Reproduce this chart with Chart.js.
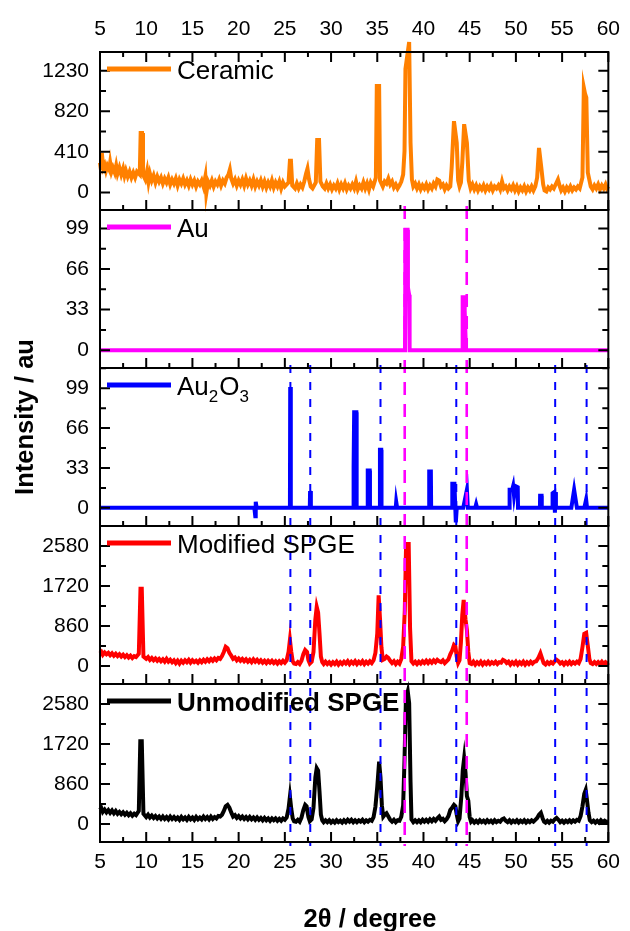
<!DOCTYPE html>
<html>
<head>
<meta charset="utf-8">
<script src="https://cdn.jsdelivr.net/npm/chart.js@4/dist/chart.umd.min.js"></script>
<style>
  html, body { margin: 0; padding: 0; background: #fff; }
  canvas { display: block; }
</style>
</head>
<body>
<canvas id="xrdChart" width="630" height="931"></canvas>
<script>
// 2theta tick values shared by every panel
const xTicks = [5, 10, 15, 20, 25, 30, 35, 40, 45, 50, 55, 60];

// y tick labels per panel (top to bottom)
const ceramicTicks = [0, 410, 820, 1230];
const auTicks = [0, 33, 66, 99];
const au2o3Ticks = [0, 33, 66, 99];
const modifiedTicks = [0, 860, 1720, 2580];
const unmodifiedTicks = [0, 860, 1720, 2580];

// reference lines (2theta)
const auLines = [37.97, 44.68];
const au2o3Lines = [25.6, 27.75, 35.35, 43.55, 54.25, 57.65];

// series values: [2theta, intensity]
const ceramic = [
  [5.0,300],[5.1,230],[5.2,400],[5.35,250],[5.5,280],[5.65,220],[5.8,270],[6.0,230],[6.1,300],[6.25,210],
  [6.4,250],[6.6,200],[6.75,270],[6.9,190],[7.1,250],[7.3,180],[7.5,240],[7.65,170],[7.8,220],[8.0,160],
  [8.2,210],[8.4,150],[8.6,200],[8.8,150],[9.0,210],[9.3,180],[9.4,600],[9.55,600],[9.65,180],[9.9,130],
  [10.1,220],[10.25,110],[10.4,190],[10.6,120],[10.8,170],[11.0,100],[11.2,160],[11.4,110],[11.6,150],[11.8,90],
  [12.0,140],[12.2,100],[12.4,150],[12.6,80],[12.8,130],[13.0,90],[13.2,140],[13.4,70],[13.6,130],[13.8,90],
  [14.0,140],[14.2,80],[14.4,120],[14.6,70],[14.8,130],[15.0,80],[15.2,120],[15.4,60],[15.6,110],[15.8,80],
  [16.0,120],[16.2,60],[16.4,160],[16.5,-10],[16.7,110],[16.9,70],[17.1,120],[17.3,60],[17.5,110],[17.7,80],
  [17.9,130],[18.1,70],[18.3,120],[18.5,90],[18.7,150],[18.9,180],[19.05,230],[19.2,140],[19.4,90],[19.6,130],
  [19.8,70],[20.0,120],[20.2,80],[20.4,130],[20.6,70],[20.8,140],[21.0,80],[21.2,120],[21.4,70],[21.6,130],
  [21.8,60],[22.0,110],[22.2,70],[22.4,120],[22.6,60],[22.8,110],[23.0,50],[23.2,100],[23.4,60],[23.6,120],
  [23.8,50],[24.0,100],[24.2,60],[24.4,110],[24.6,40],[24.8,100],[25.0,60],[25.4,100],[25.55,320],[25.66,320],
  [25.8,70],[26.1,40],[26.3,90],[26.5,40],[26.7,80],[26.9,50],[27.1,110],[27.3,190],[27.45,240],[27.6,140],
  [27.8,60],[28.0,40],[28.35,100],[28.5,530],[28.7,530],[28.85,110],[29.1,60],[29.3,40],[29.5,90],[29.7,40],
  [29.9,80],[30.1,30],[30.3,70],[30.5,40],[30.7,90],[30.9,30],[31.1,80],[31.3,40],[31.5,90],[31.7,30],
  [31.9,70],[32.1,40],[32.3,80],[32.5,40],[32.7,110],[32.9,30],[33.1,70],[33.3,40],[33.5,100],[33.7,40],
  [33.9,90],[34.1,30],[34.3,100],[34.55,60],[34.85,150],[34.95,1075],[35.2,1075],[35.3,120],[35.6,60],[35.8,110],
  [36.0,90],[36.2,140],[36.4,80],[36.6,110],[36.8,50],[37.0,80],[37.2,40],[37.4,70],[37.6,110],[37.8,180],
  [37.95,420],[38.05,1250],[38.45,1520],[38.6,500],[38.75,130],[38.9,60],[39.1,90],[39.3,40],[39.5,80],[39.7,30],
  [39.9,70],[40.1,40],[40.3,80],[40.5,30],[40.7,70],[40.9,40],[41.1,90],[41.3,60],[41.5,130],[41.7,120],
  [41.9,60],[42.1,80],[42.3,30],[42.5,70],[42.7,40],[42.9,60],[43.05,250],[43.3,720],[43.6,500],[43.75,120],
  [43.9,60],[44.05,100],[44.2,300],[44.4,690],[44.7,500],[44.9,120],[45.1,40],[45.3,80],[45.5,30],[45.7,70],
  [45.9,20],[46.1,60],[46.3,30],[46.5,70],[46.7,20],[46.9,60],[47.1,30],[47.3,70],[47.5,20],[47.7,60],
  [47.9,40],[48.1,70],[48.3,30],[48.5,110],[48.7,40],[48.9,60],[49.1,20],[49.3,60],[49.5,30],[49.7,70],
  [49.9,20],[50.1,60],[50.3,10],[50.5,50],[50.7,20],[50.9,60],[51.1,10],[51.3,50],[51.5,20],[51.7,60],
  [51.9,20],[52.1,60],[52.3,150],[52.5,450],[52.75,250],[52.95,80],[53.1,20],[53.3,10],[53.5,50],[53.7,30],
  [53.9,60],[54.1,40],[54.3,80],[54.55,130],[54.75,60],[54.9,20],[55.1,50],[55.3,10],[55.5,50],[55.7,20],
  [55.9,60],[56.1,20],[56.3,50],[56.5,30],[56.7,60],[56.9,40],[57.2,150],[57.35,1060],[57.48,1000],[57.62,960],
  [57.78,200],[58.1,60],[58.3,30],[58.5,70],[58.7,40],[58.9,80],[59.1,30],[59.3,70],[59.5,40],[59.7,80],
  [59.85,40],[60.0,60]
];

const au = [
  [5,0],[38.0,0],[38.05,98],[38.28,98],[38.32,51],[38.45,45],[38.5,0],
  [44.2,0],[44.24,43],[44.42,43],[44.46,32],[44.6,0],[60,0]
];

const au2o3 = [
  [5,0],[21.7,0],[21.8,-7],[21.85,5],[21.95,0],[25.55,0],[25.58,100],[25.63,100],[25.66,0],
  [27.7,0],[27.73,14],[27.8,14],[27.83,0],[32.38,0],[32.4,34],[32.48,34],[32.5,79],[32.74,79],[32.77,0],
  [33.95,0],[33.97,31],[34.18,31],[34.21,0],[35.27,0],[35.29,48],[35.43,48],[35.46,0],[37.0,0],[37.05,5],[37.15,0],
  [40.6,0],[40.62,30],[40.8,30],[40.83,0],[43.1,0],[43.12,20],[43.35,20],[43.5,-12],[43.6,0],
  [44.3,0],[44.7,15],[44.8,0],[45.6,0],[45.7,3],[45.8,0],
  [49.3,0],[49.32,15],[49.6,15],[49.7,18],[49.8,10],[49.95,18],[50.2,17],[50.23,0],
  [52.6,0],[52.62,10],[52.78,10],[52.8,0],[53.95,0],[53.97,12],[54.15,13],[54.22,-4],[54.3,13],[54.33,0],
  [56.0,0],[56.3,15],[56.6,0],[57.4,0],[57.6,7],[57.7,0],[60,0]
];

const modified = [
  [5.0,270],[5.15,300],[5.3,240],[5.5,290],[5.7,250],[5.9,280],[6.1,230],[6.3,270],[6.5,220],[6.7,260],
  [6.9,210],[7.1,250],[7.3,200],[7.5,240],[7.7,190],[7.9,230],[8.1,180],[8.3,220],[8.5,170],[8.7,210],
  [8.9,190],[9.2,260],[9.38,1660],[9.52,1660],[9.7,200],[10.0,150],[10.2,190],[10.4,130],[10.6,170],[10.8,120],
  [11.0,160],[11.2,110],[11.4,150],[11.6,100],[11.8,140],[12.0,90],[12.2,150],[12.4,90],[12.6,130],[12.8,80],
  [13.0,120],[13.2,60],[13.4,110],[13.6,50],[13.8,110],[14.0,70],[14.2,120],[14.4,80],[14.6,130],[14.8,70],
  [15.0,120],[15.2,80],[15.4,110],[15.6,70],[15.8,120],[16.0,80],[16.2,130],[16.4,90],[16.6,140],[16.8,100],
  [17.0,150],[17.2,110],[17.4,160],[17.6,120],[17.8,170],[18.0,150],[18.2,210],[18.4,300],[18.6,410],[18.8,380],
  [19.0,280],[19.2,220],[19.4,150],[19.6,180],[19.8,120],[20.0,160],[20.2,110],[20.4,150],[20.6,100],[20.8,140],
  [21.0,90],[21.2,130],[21.4,80],[21.6,140],[21.8,90],[22.0,130],[22.2,80],[22.4,120],[22.6,70],[22.8,110],
  [23.0,60],[23.2,110],[23.4,70],[23.6,110],[23.8,60],[24.0,100],[24.2,50],[24.4,100],[24.6,60],[24.8,110],
  [25.0,70],[25.2,120],[25.4,300],[25.55,560],[25.7,300],[25.85,100],[26.0,50],[26.2,40],[26.4,80],[26.6,40],
  [26.8,110],[27.0,250],[27.2,340],[27.4,300],[27.55,120],[27.7,50],[27.9,90],[28.1,300],[28.3,1000],[28.45,1270],
  [28.6,1150],[28.75,700],[28.9,200],[29.05,80],[29.2,40],[29.4,90],[29.6,40],[29.8,80],[30.0,30],[30.2,80],
  [30.4,40],[30.6,90],[30.8,30],[31.0,80],[31.2,40],[31.4,90],[31.6,50],[31.8,100],[32.0,40],[32.2,90],
  [32.4,50],[32.6,100],[32.8,40],[33.0,90],[33.2,50],[33.4,100],[33.6,40],[33.8,90],[34.0,50],[34.2,100],
  [34.4,60],[34.6,120],[34.8,280],[35.0,700],[35.15,1520],[35.3,1000],[35.45,400],[35.6,130],[35.8,150],[36.0,200],
  [36.2,170],[36.4,110],[36.6,60],[36.8,100],[37.0,40],[37.2,90],[37.4,50],[37.6,150],[37.8,410],[37.98,1200],
  [38.12,2620],[38.4,2620],[38.55,800],[38.7,100],[38.9,50],[39.1,90],[39.3,40],[39.5,90],[39.7,50],[39.9,100],
  [40.1,60],[40.3,110],[40.5,60],[40.7,110],[40.9,70],[41.1,120],[41.3,80],[41.5,130],[41.7,100],[41.9,80],
  [42.1,120],[42.3,60],[42.5,100],[42.7,140],[42.9,250],[43.1,330],[43.3,450],[43.45,420],[43.6,200],[43.75,60],
  [43.9,120],[44.05,500],[44.2,1100],[44.35,1420],[44.55,1000],[44.7,770],[44.85,300],[45.0,60],[45.2,40],[45.4,90],
  [45.6,30],[45.8,80],[46.0,40],[46.2,90],[46.4,30],[46.6,80],[46.8,40],[47.0,90],[47.2,40],[47.4,80],
  [47.6,50],[47.8,90],[48.0,40],[48.2,80],[48.4,70],[48.6,130],[48.8,110],[49.0,60],[49.2,90],[49.4,30],
  [49.6,80],[49.8,40],[50.0,90],[50.2,30],[50.4,80],[50.6,40],[50.8,90],[51.0,30],[51.2,80],[51.4,40],
  [51.6,90],[51.8,50],[52.0,90],[52.2,100],[52.45,180],[52.65,270],[52.85,150],[53.0,60],[53.2,30],[53.4,80],
  [53.6,40],[53.8,80],[54.0,50],[54.2,100],[54.4,130],[54.6,100],[54.8,50],[55.0,80],[55.2,30],[55.4,80],
  [55.6,40],[55.8,90],[56.0,40],[56.2,80],[56.4,50],[56.6,90],[56.8,60],[57.0,150],[57.2,400],[57.4,690],
  [57.6,710],[57.8,400],[57.95,150],[58.1,60],[58.3,40],[58.5,80],[58.7,40],[58.9,80],[59.1,40],[59.3,90],
  [59.5,40],[59.7,80],[59.9,50],[60.0,70]
];

const unmodified = [
  [5.0,300],[5.15,340],[5.3,260],[5.5,310],[5.7,250],[5.9,300],[6.1,240],[6.3,290],[6.5,230],[6.7,280],
  [6.9,220],[7.1,260],[7.3,210],[7.5,250],[7.7,200],[7.9,240],[8.1,190],[8.3,230],[8.5,180],[8.7,220],
  [8.9,190],[9.2,280],[9.36,1780],[9.52,1780],[9.7,220],[10.0,150],[10.2,200],[10.4,140],[10.6,180],[10.8,130],
  [11.0,170],[11.2,120],[11.4,160],[11.6,110],[11.8,160],[12.0,110],[12.2,150],[12.4,100],[12.6,160],[12.8,110],
  [13.0,150],[13.2,100],[13.4,140],[13.6,90],[13.8,150],[14.0,100],[14.2,140],[14.4,90],[14.6,150],[14.8,100],
  [15.0,140],[15.2,90],[15.4,150],[15.6,100],[15.8,140],[16.0,100],[16.2,160],[16.4,110],[16.6,150],[16.8,100],
  [17.0,160],[17.2,110],[17.4,150],[17.6,120],[17.8,170],[18.0,160],[18.2,200],[18.4,280],[18.6,380],[18.8,410],
  [19.0,350],[19.2,250],[19.4,160],[19.6,190],[19.8,130],[20.0,170],[20.2,120],[20.4,160],[20.6,110],[20.8,150],
  [21.0,100],[21.2,150],[21.4,100],[21.6,140],[21.8,90],[22.0,140],[22.2,90],[22.4,130],[22.6,80],[22.8,130],
  [23.0,80],[23.2,120],[23.4,70],[23.6,120],[23.8,80],[24.0,120],[24.2,70],[24.4,110],[24.6,70],[24.8,120],
  [25.0,90],[25.2,140],[25.4,330],[25.55,590],[25.7,320],[25.85,120],[26.0,60],[26.2,50],[26.4,90],[26.6,50],
  [26.8,140],[27.0,300],[27.2,410],[27.35,380],[27.55,150],[27.7,60],[27.9,100],[28.1,350],[28.3,1000],[28.45,1200],
  [28.6,1150],[28.75,700],[28.9,200],[29.05,80],[29.2,40],[29.4,80],[29.6,40],[29.8,80],[30.0,30],[30.2,70],
  [30.4,30],[30.6,80],[30.8,40],[31.0,70],[31.2,30],[31.4,80],[31.6,40],[31.8,90],[32.0,50],[32.2,90],
  [32.4,40],[32.6,80],[32.8,40],[33.0,80],[33.2,50],[33.4,90],[33.6,40],[33.8,80],[34.0,50],[34.2,90],
  [34.4,70],[34.6,150],[34.8,370],[35.0,800],[35.2,1340],[35.35,1000],[35.5,400],[35.65,160],[35.8,200],[36.0,230],
  [36.2,160],[36.4,90],[36.6,50],[36.8,90],[37.0,40],[37.2,80],[37.4,70],[37.6,160],[37.8,400],[37.95,1400],
  [38.1,2700],[38.3,2850],[38.45,2600],[38.6,900],[38.7,100],[38.9,40],[39.1,80],[39.3,40],[39.5,80],[39.7,40],
  [39.9,90],[40.1,50],[40.3,90],[40.5,50],[40.7,100],[40.9,60],[41.1,110],[41.3,70],[41.5,120],[41.7,160],
  [41.9,90],[42.1,110],[42.3,60],[42.5,100],[42.7,170],[42.9,300],[43.1,350],[43.3,410],[43.45,380],[43.6,200],
  [43.75,60],[43.9,120],[44.1,600],[44.25,1150],[44.4,1410],[44.55,1100],[44.7,600],[44.85,500],[45.0,150],[45.15,50],
  [45.3,80],[45.5,30],[45.7,70],[45.9,30],[46.1,80],[46.3,40],[46.5,70],[46.7,30],[46.9,80],[47.1,40],
  [47.3,70],[47.5,30],[47.7,80],[47.9,40],[48.1,70],[48.3,50],[48.5,100],[48.7,120],[48.9,70],[49.1,40],
  [49.3,80],[49.5,30],[49.7,70],[49.9,40],[50.1,80],[50.3,30],[50.5,70],[50.7,40],[50.9,80],[51.1,30],
  [51.3,70],[51.5,40],[51.7,80],[51.9,50],[52.1,90],[52.3,130],[52.5,200],[52.7,240],[52.9,120],[53.05,50],
  [53.2,30],[53.4,70],[53.6,30],[53.8,70],[54.0,50],[54.2,100],[54.4,130],[54.6,90],[54.8,40],[55.0,70],
  [55.2,30],[55.4,70],[55.6,40],[55.8,80],[56.0,40],[56.2,80],[56.4,50],[56.6,90],[56.8,70],[57.0,170],
  [57.2,380],[57.4,650],[57.55,730],[57.7,500],[57.85,250],[58.0,80],[58.2,40],[58.4,70],[58.6,30],[58.8,70],
  [59.0,30],[59.2,80],[59.4,40],[59.6,70],[59.8,40],[60.0,60]
];

Chart.defaults.font.family = '"Liberation Sans", Arial, sans-serif';
Chart.defaults.color = '#000';

const FONT = '"Liberation Sans", Arial, sans-serif';

// one entry per panel, top to bottom
const panels = [
  { id: 'y1', name: 'Ceramic', color: '#FF8000', data: ceramic, ticks: ceramicTicks, min: -178, max: 1420 },
  { id: 'y2', name: 'Au', color: '#FF00FF', data: au, ticks: auTicks, min: -14.5, max: 114 },
  { id: 'y3', name: 'Au2O3', color: '#0000FF', data: au2o3, ticks: au2o3Ticks, min: -15, max: 115.7 },
  { id: 'y4', name: 'Modified SPGE', color: '#FF0000', data: modified, ticks: modifiedTicks, min: -390, max: 3010 },
  { id: 'y5', name: 'Unmodified SPGE', color: '#000000', data: unmodified, ticks: unmodifiedTicks, min: -387, max: 3010, bold: true }
];

function toPoints(pairs) {
  return pairs.map(p => ({ x: p[0], y: p[1] }));
}

function xAxis(position, height, pad) {
  return {
    type: 'linear',
    position: position,
    min: 5,
    max: 60,
    bounds: 'data',
    grid: { display: false, drawTicks: false },
    border: { display: false },
    ticks: { font: { size: 21 }, padding: pad, maxRotation: 0, autoSkip: false, callback: v => String(v) },
    afterBuildTicks: s => { s.ticks = xTicks.map(v => ({ value: v })); },
    afterFit: s => { s.height = height; }
  };
}

const scales = { x: xAxis('bottom', 89, 8), xt: xAxis('top', 52, 10) };
// stacked left axes: the last one added ends up on top, so add bottom panel first
panels.slice().reverse().forEach(p => {
  scales[p.id] = {
    type: 'linear',
    position: 'left',
    stack: 'panels',
    stackWeight: 1,
    min: p.min,
    max: p.max,
    bounds: 'data',
    grid: { display: false, drawTicks: false },
    border: { display: false },
    ticks: { font: { size: 21 }, padding: 11, callback: v => String(v) },
    afterBuildTicks: s => { s.ticks = p.ticks.map(v => ({ value: v })); },
    afterFit: s => { s.width = 100; }
  };
});

const datasets = panels.map(p => ({
  label: p.name,
  data: toPoints(p.data),
  xAxisID: 'x',
  yAxisID: p.id,
  borderColor: p.color,
  backgroundColor: p.color,
  borderWidth: 4,
  pointRadius: 0,
  tension: 0,
  clip: p.id === 'y1' ? { left: 2, right: 4, top: 12, bottom: 2 } : 3
}));

function drawDashed(ctx, chart, values, color, width, dash, topId, topOff) {
  const xs = chart.scales.x;
  const y0 = chart.scales[topId].top - topOff;
  const y1 = chart.scales.y5.bottom + 4;
  ctx.save();
  ctx.strokeStyle = color;
  ctx.lineWidth = width;
  ctx.setLineDash(dash);
  values.forEach(v => {
    const px = xs.getPixelForValue(v);
    ctx.beginPath();
    ctx.moveTo(px, y0);
    ctx.lineTo(px, y1);
    ctx.stroke();
  });
  ctx.restore();
}

const panelFrames = {
  id: 'panelFrames',
  afterDatasetsDraw(chart) {
    const { ctx, chartArea: a, scales: sc } = chart;
    const xs = sc.x;

    drawDashed(ctx, chart, au2o3Lines, '#0000FF', 2, [8, 9], 'y3', 3);
    drawDashed(ctx, chart, auLines, '#FF00FF', 2.6, [13, 9], 'y2', 4);

    ctx.save();
    ctx.strokeStyle = '#000';
    ctx.lineWidth = 2;
    panels.forEach((p, i) => {
      const s = sc[p.id];
      ctx.strokeRect(a.left, s.top, a.right - a.left, s.bottom - s.top);

      ctx.beginPath();
      // x ticks on the bottom edge, pointing up
      xTicks.forEach(v => {
        const px = xs.getPixelForValue(v);
        ctx.moveTo(px, s.bottom); ctx.lineTo(px, s.bottom - 10);
        if (v + 2.5 < 60) {
          const pm = xs.getPixelForValue(v + 2.5);
          ctx.moveTo(pm, s.bottom); ctx.lineTo(pm, s.bottom - 5);
        }
        if (i === 0) {
          ctx.moveTo(px, s.top); ctx.lineTo(px, s.top + 10);
          if (v + 2.5 < 60) {
            const pm = xs.getPixelForValue(v + 2.5);
            ctx.moveTo(pm, s.top); ctx.lineTo(pm, s.top + 5);
          }
        }
      });
      // y ticks on both sides, pointing in
      const step = p.ticks[1] - p.ticks[0];
      p.ticks.forEach(v => {
        const py = s.getPixelForValue(v);
        ctx.moveTo(a.left, py); ctx.lineTo(a.left + 10, py);
        ctx.moveTo(a.right, py); ctx.lineTo(a.right - 10, py);
        [v - step / 2, v + step / 2].forEach(m => {
          if (m < p.min || m > p.max + 1) return;
          if (m < v && v !== p.ticks[0]) return;
          const pm = s.getPixelForValue(m);
          ctx.moveTo(a.left, pm); ctx.lineTo(a.left + 6, pm);
          ctx.moveTo(a.right, pm); ctx.lineTo(a.right - 6, pm);
        });
      });
      ctx.stroke();

      // panel legend
      const ly = s.top + 17;
      ctx.save();
      ctx.strokeStyle = p.color;
      ctx.lineWidth = 5;
      ctx.beginPath();
      ctx.moveTo(a.left + 7, ly);
      ctx.lineTo(a.left + 71, ly);
      ctx.stroke();
      ctx.fillStyle = '#000';
      ctx.textBaseline = 'alphabetic';
      ctx.textAlign = 'left';
      const base = s.top + 26.5;
      let tx = a.left + 77;
      if (p.name === 'Au2O3') {
        const parts = [['Au', 26, 0], ['2', 17, 7], ['O', 26, 0], ['3', 17, 7]];
        parts.forEach(([t, size, dy]) => {
          ctx.font = size + 'px ' + FONT;
          ctx.fillText(t, tx, base + dy);
          tx += ctx.measureText(t).width + (size < 20 ? 1 : 0);
        });
      } else {
        ctx.font = (p.bold ? 'bold ' : '') + '26px ' + FONT;
        ctx.fillText(p.name, tx, base);
      }
      ctx.restore();
    });
    ctx.restore();

    // axis titles
    ctx.save();
    ctx.fillStyle = '#000';
    ctx.font = 'bold 25.5px ' + FONT;
    ctx.textAlign = 'center';
    ctx.textBaseline = 'alphabetic';
    ctx.fillText('2θ / degree', 370, 927);
    ctx.translate(33, 417);
    ctx.rotate(-Math.PI / 2);
    ctx.fillText('Intensity / au', 0, 0);
    ctx.restore();
  }
};

new Chart(document.getElementById('xrdChart'), {
  type: 'line',
  data: { datasets: datasets },
  options: {
    responsive: false,
    animation: false,
    devicePixelRatio: 1,
    layout: { padding: { left: 0, right: 14, top: 0, bottom: 0 } },
    plugins: { legend: { display: false }, tooltip: { enabled: false } },
    scales: scales
  },
  plugins: [panelFrames]
});
</script>
</body>
</html>
